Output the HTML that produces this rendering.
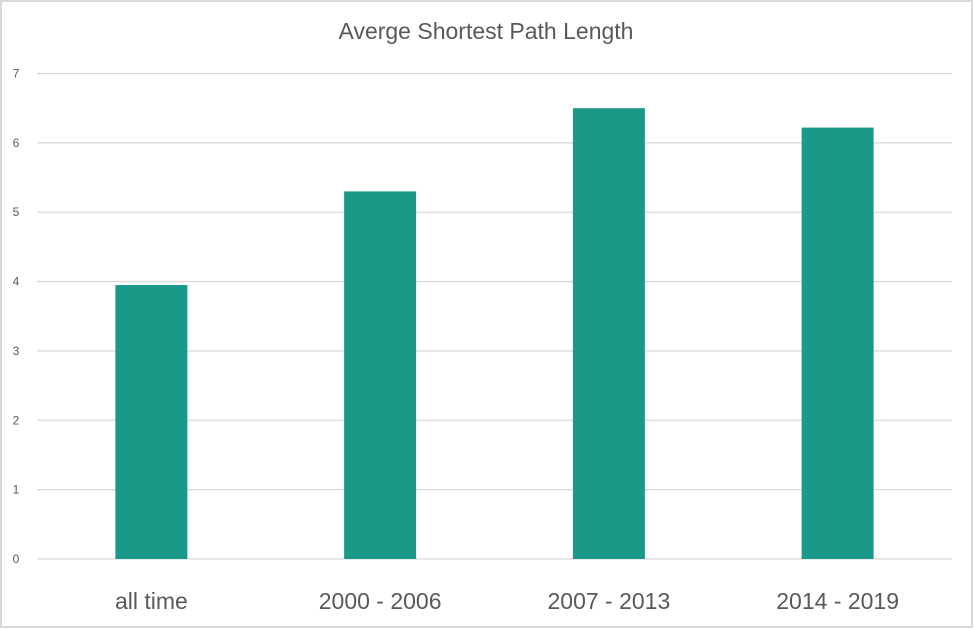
<!DOCTYPE html>
<html><head><meta charset="utf-8"><style>
html,body{margin:0;padding:0;background:#fff;}
svg{display:block;font-family:"Liberation Sans",sans-serif;}
</style></head><body>
<svg id="chart" width="974" height="629">
<rect x="1" y="1" width="971" height="626" fill="#fff" stroke="#d9d9d9" stroke-width="2"/>
<text x="486" y="39" text-anchor="middle" font-size="23" fill="#595959">Averge Shortest Path Length</text>
<g id="grid"></g><g id="bars"></g><g id="labels"></g>
</svg>
<script>
const categories=["all time","2000 - 2006","2007 - 2013","2014 - 2019"];
const values=[3.95,5.3,6.5,6.22];
const yTicks=[0,1,2,3,4,5,6,7];
const NS="http://www.w3.org/2000/svg";
const left=37,right=952,y0=559,y7=73.5,yMax=7;
function y(v){return y0-(y0-y7)*v/yMax;}
const band=(right-left)/categories.length;
function xc(i){return left+band*(i+0.5);}
const grid=document.getElementById('grid'),bars=document.getElementById('bars'),labels=document.getElementById('labels');
yTicks.forEach(t=>{
  const l=document.createElementNS(NS,'line');
  l.setAttribute('x1',left);l.setAttribute('x2',right);l.setAttribute('y1',y(t));l.setAttribute('y2',y(t));
  l.setAttribute('stroke','#d9d9d9');l.setAttribute('stroke-width','1.3');
  
  
  grid.appendChild(l);
  const tx=document.createElementNS(NS,'text');
  tx.setAttribute('x',16);tx.setAttribute('y',y(t)+4);tx.setAttribute('text-anchor','middle');
  tx.setAttribute('font-size','12');tx.setAttribute('fill','#595959');tx.textContent=t;
  
  
  labels.appendChild(tx);
});
const bw=72;
values.forEach((v,i)=>{
  const r=document.createElementNS(NS,'rect');
  r.setAttribute('x',xc(i)-bw/2);r.setAttribute('y',y(v));r.setAttribute('width',bw);r.setAttribute('height',y0-y(v));
  r.setAttribute('fill','#1a9988');
  
  
  bars.appendChild(r);
  const tx=document.createElementNS(NS,'text');
  tx.setAttribute('x',xc(i));tx.setAttribute('y',609);tx.setAttribute('text-anchor','middle');
  tx.setAttribute('font-size','23');tx.setAttribute('fill','#595959');tx.textContent=categories[i];
  
  
  labels.appendChild(tx);
});
</script>
</body></html>
